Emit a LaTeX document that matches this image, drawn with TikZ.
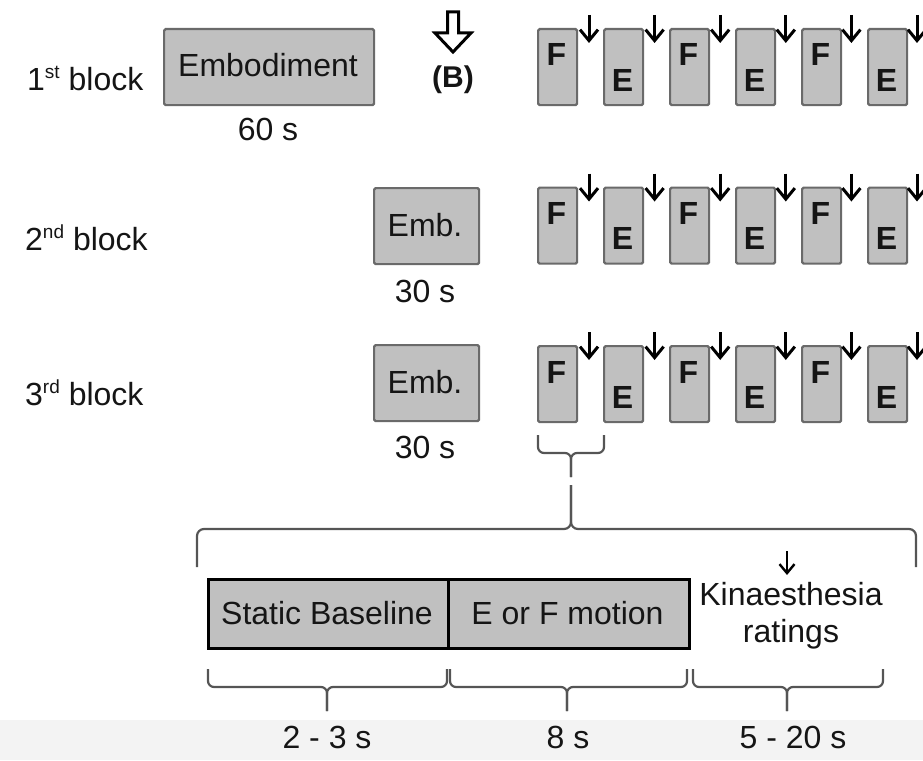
\documentclass[tikz,border=0pt]{standalone}
\usepackage{fontspec}
\setmainfont{Liberation Sans}
\usetikzlibrary{arrows.meta}
\definecolor{boxfill}{HTML}{C0C0C0}
\definecolor{boxline}{HTML}{6A6A6A}
\definecolor{bracecol}{HTML}{555555}
\definecolor{txt}{HTML}{151515}
\definecolor{band}{HTML}{F3F3F3}
\newcommand{\supx}[1]{\raisebox{12pt}{\fontsize{19}{20}\selectfont #1}}
\begin{document}
\begin{tikzpicture}[x=1pt,y=-1pt,
  every node/.style={font=\fontsize{32}{36}\selectfont, text=txt, inner sep=0pt},
  gbox/.style={draw=boxline, fill=boxfill, line width=2.2pt, rounded corners=1.5pt, anchor=north west},
  bbox/.style={draw=black, fill=boxfill, line width=2.5pt, anchor=north west, minimum height=69pt},
  letter/.style={font=\fontsize{32}{36}\selectfont\bfseries, anchor=base},
  lbl/.style={anchor=base},
  darr/.style={-{Straight Barb[length=11pt,width=18pt]}, line width=3pt, black},
  brace/.style={draw=bracecol, line width=2.2pt, rounded corners=7pt},
]
\useasboundingbox (0,0) rectangle (923,760);
\fill[band] (0,720) rectangle (923,760);

% block labels
\node[anchor=base west] (lab1) at (27,90) {1\supx{st} block};
\node[anchor=base west] (lab2) at (25,250) {2\supx{nd} block};
\node[anchor=base west] (lab3) at (25,405) {3\supx{rd} block};

% embodiment boxes
\node[gbox, minimum width=210pt, minimum height=76pt] (emb1) at (163,28) {};
\node[lbl] (emb1t) at (268,77) {Embodiment};
\node[lbl] (t60) at (268,140) {60 s};
\node[gbox, minimum width=105pt, minimum height=76pt] (emb2) at (373,187) {};
\node[lbl] (emb2t) at (425,236) {Emb.};
\node[lbl] (t30a) at (425,302) {30 s};
\node[gbox, minimum width=105pt, minimum height=76pt] (emb3) at (373,344) {};
\node[lbl] (emb3t) at (425,393) {Emb.};
\node[lbl] (t30b) at (425,458) {30 s};

% (B) hollow arrow
\draw[line width=3pt, fill=white, line join=miter]
  (447.5,12) -- (458.5,12) -- (458.5,33) -- (471,33) -- (453,52) -- (435,33) -- (447.5,33) -- cycle;
\node[anchor=base, font=\fontsize{30}{32}\selectfont\bfseries] (B) at (453,88) {(B)};

% F / E trials
\foreach \row/\top in {1/28, 2/186.5, 3/345}{
  \foreach \i in {0,...,5}{
    \pgfmathsetmacro{\bx}{537+66*\i}
    \pgfmathsetmacro{\ax}{589+65.6*\i}
    \node[gbox, minimum width=39pt, minimum height=76pt] (r\row b\i) at (\bx,\top) {};
    \ifodd\i
      \node[letter] (r\row l\i) at (\bx+19.5,\top+63) {E};
    \else
      \node[letter] (r\row l\i) at (\bx+19.5,\top+38) {F};
    \fi
    \coordinate (r\row s\i) at (\ax,\top-13);
    \coordinate (r\row e\i) at (\ax,\top+15);
    \draw[darr] (r\row s\i) -- (r\row e\i);
  }
}

% small brace under first trial
\draw[brace, rounded corners=6pt] (538,435) -- (538,453) -- (571,453) -- (571,477);
\draw[brace, rounded corners=6pt] (604,435) -- (604,453) -- (571,453) -- (571,477);

% big brace
\draw[brace] (197,567) -- (197,529) -- (571,529) -- (571,485);
\draw[brace] (916,567) -- (916,529) -- (571,529) -- (571,485);

% trial detail
\node[bbox, minimum width=240pt] (sb) at (207,578) {};
\node[bbox, minimum width=241pt] (mo) at (447,578) {};
\node[lbl] (sbt) at (327,624) {Static Baseline};
\node[lbl] (mot) at (567.5,624) {E or F motion};
\node[lbl] (k1) at (791,605) {Kinaesthesia};
\node[lbl] (k2) at (791,642) {ratings};
\coordinate (ka) at (787,551);
\coordinate (kb) at (787,575);
\draw[-{Straight Barb[length=9pt,width=15pt]}, line width=2.4pt, black] (ka) -- (kb);

% bottom braces
\draw[brace, rounded corners=6pt] (208,669) -- (208,687) -- (327,687) -- (327,711);
\draw[brace, rounded corners=6pt] (447,669) -- (447,687) -- (327,687) -- (327,711);
\draw[brace, rounded corners=6pt] (450,669) -- (450,687) -- (567,687) -- (567,711);
\draw[brace, rounded corners=6pt] (687,669) -- (687,687) -- (567,687) -- (567,711);
\draw[brace, rounded corners=6pt] (693,669) -- (693,687) -- (787,687) -- (787,711);
\draw[brace, rounded corners=6pt] (883,669) -- (883,687) -- (787,687) -- (787,711);

\node[lbl] (d1) at (327,748) {2 - 3 s};
\node[lbl] (d2) at (568,748) {8 s};
\node[lbl] (d3) at (793,748) {5 - 20 s};
\end{tikzpicture}
\end{document}
